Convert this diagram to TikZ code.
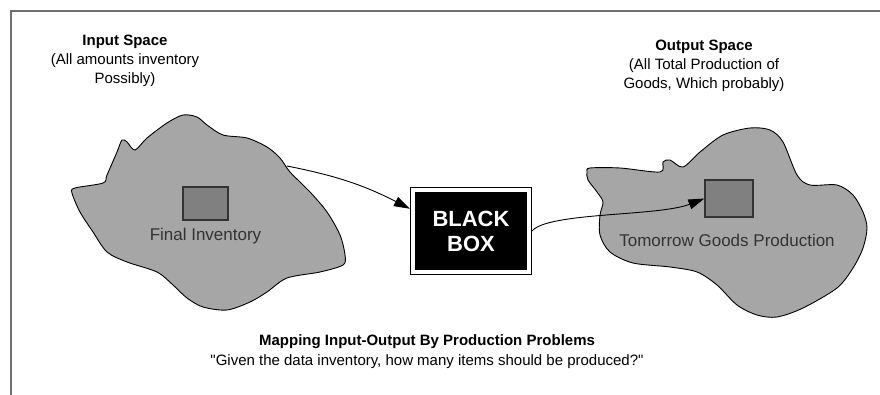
\documentclass[tikz,border=0pt]{standalone}
\usepackage{fontspec}
\setmainfont{Liberation Sans}[Ligatures=TeXOff]
\usetikzlibrary{arrows.meta,positioning}

\definecolor{blobgray}{HTML}{A6A6A6}
\definecolor{boxgray}{HTML}{808080}
\definecolor{framegray}{HTML}{707070}

\tikzset{
  blob/.style={draw=black, fill=blobgray, line width=0.9pt},
  itembox/.style={draw=black!80, fill=boxgray, line width=1.3pt, minimum width=45pt, minimum height=33pt},
  itemlabel/.style={font=\fontsize{17}{20}\selectfont, text=black!80, inner sep=2pt},
  heading/.style={align=center, font=\fontsize{15}{19}\selectfont},
  flow/.style={-{Triangle[length=16pt,width=10pt]}, line width=0.9pt},
}

\begin{document}
\begin{tikzpicture}[x=1pt,y=-1pt]
  \useasboundingbox (0,0) rectangle (880,395);
  % frame
  \draw[framegray, line width=2.2pt] (880,11) -- (11,11) -- (11,395);

  % input space
  \draw[blob] plot[smooth cycle, tension=0.5] coordinates {
    (72,193) (75,188) (103,183) (107,175) (117,152) (122,140) (127,142) (135,150)
    (147,138) (167,123) (183,115) (197,117) (207,125) (223,135) (247,138) (267,147)
    (280,158) (290,172) (310,192) (327,212) (340,235) (345,255) (343,265) (320,272)
    (287,278) (267,292) (250,302) (227,310) (203,307) (187,298) (173,285) (157,272)
    (127,262) (107,252) (93,232) (80,212)};
  % output space
  \draw[blob] plot[smooth cycle, tension=0.5] coordinates {
    (587,172) (590,168) (620,168) (660,172) (663,162) (670,160) (683,167) (700,152)
    (723,135) (750,128) (770,130) (783,142) (797,175) (810,185) (837,185) (853,195)
    (863,212) (867,228) (863,248) (853,268) (837,288) (803,308) (777,317) (757,315)
    (737,305) (717,285) (697,272) (670,267) (633,263) (610,252) (600,235) (600,215)
    (603,202) (597,192) (588,180)};

  \node[itembox] (finv) at (205.5,203.5) {};
  \node[itemlabel, below=5pt of finv] (finvlabel) {Final Inventory};
  \node[itembox, minimum width=48pt, minimum height=37pt] (tgp) at (729,198.5) {};
  \node[itemlabel, below=14pt of tgp, xshift=-2pt] (tgplabel) {Tomorrow Goods Production};

  \node[draw=black, fill=black, double=white, double distance=4pt, line width=1pt,
        minimum width=116pt, minimum height=82pt, outer sep=3pt,
        align=center, text=white, font=\bfseries\fontsize{22}{25}\selectfont]
        (bbox) at (471,231) {BLACK\\BOX};

  \node[heading] (inhead) at (125,61) {\textbf{Input Space}\\(All amounts inventory\\Possibly)};
  \node[heading] (outhead) at (704,65.5) {\textbf{Output Space}\\(All Total Production of\\Goods, Which probably)};
  \node[heading, align=center, font=\fontsize{15}{20}\selectfont] (caption) at (427,352)
    {\textbf{Mapping Input-Output By Production Problems}\\"Given the data inventory, how many items should be produced?"};

  \coordinate (inflow) at (287,166);
  \draw[flow] (inflow) to[bend left=8] (bbox.160);
  \draw[flow] (bbox.east) .. controls +(16,-19) and +(-46,18) .. (tgp.west);
\end{tikzpicture}
\end{document}
